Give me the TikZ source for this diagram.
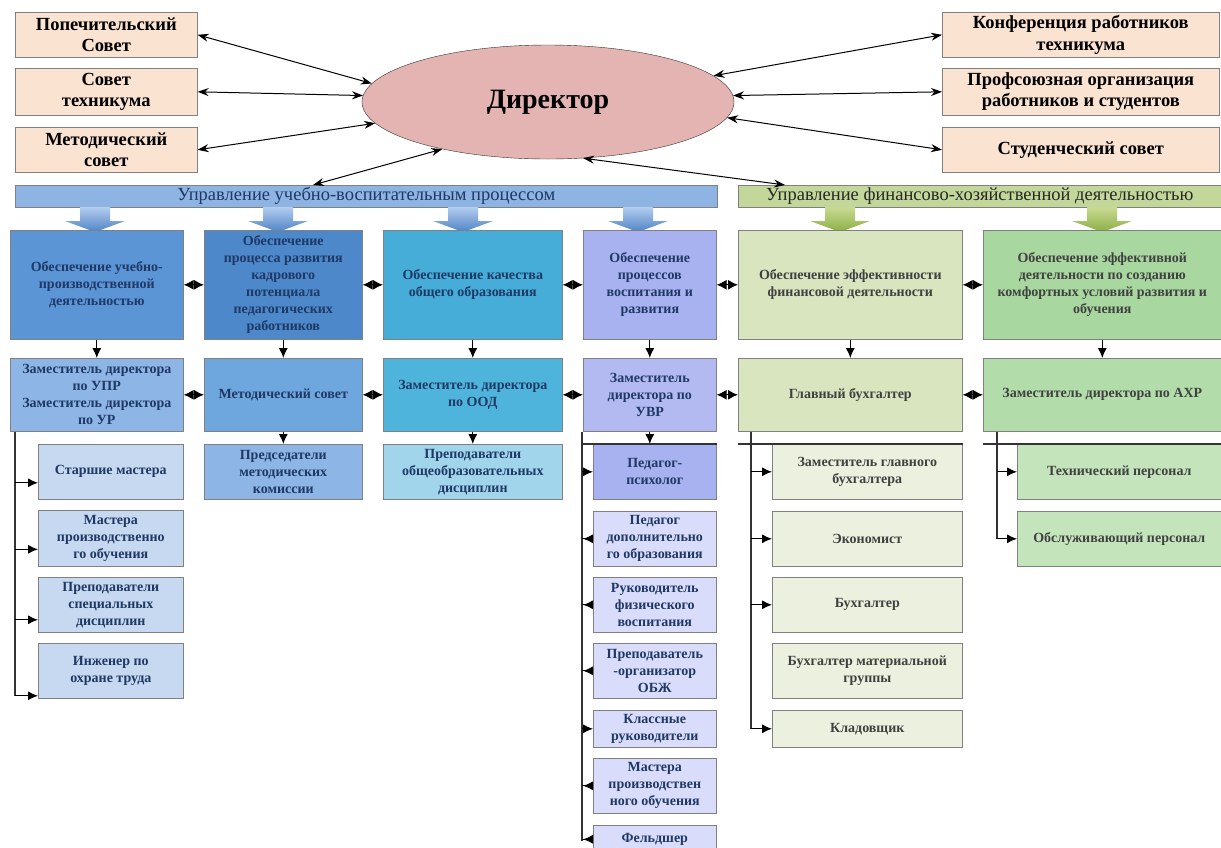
\documentclass[tikz,border=0pt]{standalone}
\usepackage{fontspec}
\setmainfont{Liberation Serif}
\usetikzlibrary{arrows.meta, shapes.geometric}

\definecolor{peach}{HTML}{FBE3D2}
\definecolor{rose}{HTML}{E4B4B3}
\definecolor{navy}{HTML}{1F3864}
\definecolor{barblue}{HTML}{8DB4E2}
\definecolor{bargreen}{HTML}{C4D79B}
\definecolor{blueA}{HTML}{5B95D6}
\definecolor{blueB}{HTML}{4C88CA}
\definecolor{tealC}{HTML}{45ADD8}
\definecolor{lilacD}{HTML}{A9B2F0}
\definecolor{greenE}{HTML}{D8E5BF}
\definecolor{greenF}{HTML}{A8D7A0}
\definecolor{blueAm}{HTML}{8DB5E5}
\definecolor{blueBm}{HTML}{6EA6DE}
\definecolor{tealCm}{HTML}{4FB4DC}
\definecolor{lilacDm}{HTML}{B3BAF2}
\definecolor{greenFm}{HTML}{B2DCAA}
\definecolor{blueAs}{HTML}{C6D9F1}
\definecolor{tealCs}{HTML}{A0D5EC}
\definecolor{lilacDs}{HTML}{D9DDFB}
\definecolor{greenEs}{HTML}{EBF1DE}
\definecolor{greenFs}{HTML}{C4E5BC}
\definecolor{arrBlueTop}{HTML}{B3CDEE}
\definecolor{arrBlueBot}{HTML}{4F83C6}
\definecolor{arrGreenTop}{HTML}{C9DB93}
\definecolor{arrGreenBot}{HTML}{8CAE45}

\newcommand{\topfont}{\fontsize{18.5}{21.5}\selectfont\bfseries}
\newcommand{\rowfont}{\fontsize{14}{17}\selectfont\bfseries}
\newcommand{\barfont}{\fontsize{18.5}{20}\selectfont}

\begin{document}
\begin{tikzpicture}[x=1pt, y=-1pt,
  orgbox/.style={draw=black!50, line width=0.6pt, align=center, anchor=north west, inner sep=1pt},
  topbox/.style={orgbox, fill=peach, font=\topfont, minimum width=182pt, minimum height=45pt},
  rightbox/.style={topbox, minimum width=277pt},
  ubox/.style={orgbox, text=navy, font=\rowfont},
  fbox/.style={orgbox, text=black!75, font=\rowfont},
  duplex/.style={line width=1pt, {Stealth[length=11pt,width=8pt]}-{Stealth[length=11pt,width=8pt]}},
  twin/.style={line width=1.2pt, {Latex[length=10pt,width=10pt]}-{Latex[length=10pt,width=10pt]}},
  feed/.style={line width=1.1pt, -{Latex[length=10pt,width=9pt]}},
  backfeed/.style={line width=1.1pt, -{Latex[length=10pt,width=9pt,reversed]}},
  branch/.style={line width=1.1pt, black!80},
]
\useasboundingbox (0,0) rectangle (1221,847);

% Director and the councils round it
\node[ellipse, draw=black!80, fill=rose, minimum width=372pt, minimum height=114pt, inner sep=0pt,
      font=\fontsize{28}{32}\selectfont\bfseries] (dir) at (548,102) {Директор};

\node[topbox] (pop) at (15,12) {Попечительский\\Совет};
\node[topbox, minimum height=47pt] (sov) at (15,68) {Совет\\техникума};
\node[topbox] (met) at (15,127) {Методический\\совет};
\node[rightbox] (konf) at (942,12) {Конференция работников\\техникума};
\node[rightbox, minimum height=47pt] (prof) at (942,68) {Профсоюзная организация\\работников и студентов};
\node[rightbox] (stud) at (942,127) {Студенческий совет};

\draw[duplex] (pop.east) -- (dir.174);
\draw[duplex] (sov.east) -- (dir.178);
\draw[duplex] (met.east) -- (dir.187);
\draw[duplex] (dir.9) -- (konf.west);
\draw[duplex] (dir.2) -- (prof.west);
\draw[duplex] (dir.-5) -- (stud.west);

% The two lines of management
\node[orgbox, fill=barblue, text=navy, font=\barfont, minimum width=702pt, minimum height=22pt] (uvp) at (15,185)
  {Управление учебно-воспитательным процессом};
\node[orgbox, fill=bargreen, text=black!85, font=\barfont, minimum width=483pt, minimum height=22pt] (fhd) at (738,185)
  {Управление финансово-хозяйственной деятельностью};
\coordinate (uvpIn) at (313,185);
\coordinate (fhdIn) at (785,185);
\draw[duplex] (dir.204) -- (uvpIn);
\draw[duplex] (dir.302) -- (fhdIn);

% Block arrows under the bars
\foreach \x/\t/\b in {95/arrBlueTop/arrBlueBot, 278/arrBlueTop/arrBlueBot, 463/arrBlueTop/arrBlueBot,
                      638/arrBlueTop/arrBlueBot, 840/arrGreenTop/arrGreenBot, 1102/arrGreenTop/arrGreenBot}
  \shade[top color=\t, bottom color=\b] (\x-15,207) -- (\x+15,207) -- (\x+15,221) -- (\x+30,221)
    -- (\x,232) -- (\x-30,221) -- (\x-15,221) -- cycle;

% Processes
\node[ubox, fill=blueA, minimum width=173pt, minimum height=109pt] (pa) at (10,230)
  {Обеспечение учебно-\\производственной\\деятельностью};
\node[ubox, fill=blueB, minimum width=158pt, minimum height=109pt] (pb) at (204,230)
  {Обеспечение\\процесса развития\\кадрового\\потенциала\\педагогических\\работников};
\node[ubox, fill=tealC, minimum width=179pt, minimum height=109pt] (pc) at (383,230)
  {Обеспечение качества\\общего образования};
\node[ubox, fill=lilacD, minimum width=133pt, minimum height=109pt] (pd) at (583,230)
  {Обеспечение\\процессов\\воспитания и\\развития};
\node[fbox, fill=greenE, minimum width=224pt, minimum height=109pt] (pe) at (738,230)
  {Обеспечение эффективности\\финансовой деятельности};
\node[fbox, fill=greenF, minimum width=238pt, minimum height=109pt] (pf) at (983,230)
  {Обеспечение эффективной\\деятельности по созданию\\комфортных условий развития и\\обучения};

% Heads
\node[ubox, fill=blueAm, minimum width=173pt, minimum height=73pt] (ma) at (10,358)
  {Заместитель директора\\по УПР\\Заместитель директора\\по УР};
\node[ubox, fill=blueBm, minimum width=158pt, minimum height=73pt] (mb) at (204,358) {Методический совет};
\node[ubox, fill=tealCm, minimum width=179pt, minimum height=73pt] (mc) at (383,358)
  {Заместитель директора\\по ООД};
\node[ubox, fill=lilacDm, minimum width=133pt, minimum height=73pt] (md) at (583,358)
  {Заместитель\\директора по\\УВР};
\node[fbox, fill=greenE, minimum width=224pt, minimum height=73pt] (me) at (738,358) {Главный бухгалтер};
\node[fbox, fill=greenFm, minimum width=238pt, minimum height=73pt] (mf) at (983,358)
  {Заместитель директора по АХР};

\foreach \a/\b in {pa/pb, pb/pc, pc/pd, pd/pe, pe/pf, ma/mb, mb/mc, mc/md, md/me, me/mf}
  \draw[twin] (\a.east) -- (\b.west);
\foreach \c in {a,b,c,d,e,f}
  \draw[feed] (p\c.south) -- (m\c.north);

% Staff, column 1
\node[ubox, fill=blueAs, minimum width=145pt, minimum height=55pt] (sa1) at (38,444) {Старшие мастера};
\node[ubox, fill=blueAs, minimum width=145pt, minimum height=56pt] (sa2) at (38,510)
  {Мастера\\производственно\\го обучения};
\node[ubox, fill=blueAs, minimum width=145pt, minimum height=55pt] (sa3) at (38,577)
  {Преподаватели\\специальных\\дисциплин};
\node[ubox, fill=blueAs, minimum width=145pt, minimum height=55pt] (sa4) at (38,643)
  {Инженер по\\охране труда};
\coordinate (ta) at ([xshift=5pt]ma.south west);
\draw[branch] (ta) -- ([yshift=-25pt]ta |- sa4.west);
\foreach \n/\d in {sa1/11, sa2/11, sa3/15, sa4/25}
  \draw[feed] ([yshift=-\d pt]\n.west) ++(-23,0) -- ++(23,0);

% Staff, columns 2 and 3
\node[ubox, fill=blueAm, minimum width=158pt, minimum height=55pt] (sb) at (204,444)
  {Председатели\\методических\\комиссии};
\node[ubox, fill=tealCs, minimum width=179pt, minimum height=55pt] (sc) at (383,444)
  {Преподаватели\\общеобразовательных\\дисциплин};
\draw[feed] (mb.south) -- (sb.north);
\draw[feed] (mc.south) -- (sc.north);

% Staff, column 4
\node[ubox, fill=lilacD, minimum width=123pt, minimum height=55pt] (sd1) at (593,444) {Педагог-\\психолог};
\node[ubox, fill=lilacDs, minimum width=123pt, minimum height=55pt] (sd2) at (593,511)
  {Педагог\\дополнительно\\го образования};
\node[ubox, fill=lilacDs, minimum width=123pt, minimum height=55pt] (sd3) at (593,577)
  {Руководитель\\физического\\воспитания};
\node[ubox, fill=lilacDs, minimum width=123pt, minimum height=55pt] (sd4) at (593,643)
  {Преподаватель\\-организатор\\ОБЖ};
\node[ubox, fill=lilacDs, minimum width=123pt, minimum height=37pt] (sd5) at (593,710)
  {Классные\\руководители};
\node[ubox, fill=lilacDs, minimum width=123pt, minimum height=55pt] (sd6) at (593,758)
  {Мастера\\производствен\\ного обучения};
\node[ubox, fill=lilacDs, minimum width=123pt, minimum height=28pt] (sd7) at (593,825) {Фельдшер};
\coordinate (td) at ([xshift=-1pt]md.south west);
\draw[branch] (td) -- ([yshift=-2pt]td |- sd7.west);
\draw[branch] (td |- sd1.north) -- (sd1.north east);
\draw[feed] (md.south) -- (md.south |- sd1.north);
\foreach \n in {sd1, sd5}
  \draw[feed] (td |- \n.west) -- (\n.west);
\foreach \n in {sd2, sd3, sd4, sd6, sd7}
  \draw[backfeed] (td |- \n.west) -- (\n.west);

% Staff, column 5
\node[fbox, fill=greenEs, minimum width=190pt, minimum height=55pt] (se1) at (772,444)
  {Заместитель главного\\бухгалтера};
\node[fbox, fill=greenEs, minimum width=190pt, minimum height=55pt] (se2) at (772,511) {Экономист};
\node[fbox, fill=greenEs, minimum width=190pt, minimum height=55pt] (se3) at (772,577) {Бухгалтер};
\node[fbox, fill=greenEs, minimum width=190pt, minimum height=55pt] (se4) at (772,643)
  {Бухгалтер материальной\\группы};
\node[fbox, fill=greenEs, minimum width=190pt, minimum height=37pt] (se5) at (772,710) {Кладовщик};
\coordinate (te) at ([xshift=13pt]me.south west);
\draw[branch] (te) -- (te |- se5.west);
\draw[branch] (me.south west |- se1.north) -- (se1.north east);
\foreach \n in {se1, se2, se3, se5}
  \draw[feed] (te |- \n.west) -- (\n.west);

% Staff, column 6
\node[fbox, fill=greenFs, minimum width=204pt, minimum height=55pt] (sf1) at (1017,444) {Технический персонал};
\node[fbox, fill=greenFs, minimum width=204pt, minimum height=55pt] (sf2) at (1017,511) {Обслуживающий персонал};
\coordinate (tf) at ([xshift=14pt]mf.south west);
\draw[branch] (tf) -- (tf |- sf2.west);
\draw[branch] (mf.south west |- sf1.north) -- (sf1.north east);
\foreach \n in {sf1, sf2}
  \draw[feed] (tf |- \n.west) -- (\n.west);
\end{tikzpicture}
\end{document}
